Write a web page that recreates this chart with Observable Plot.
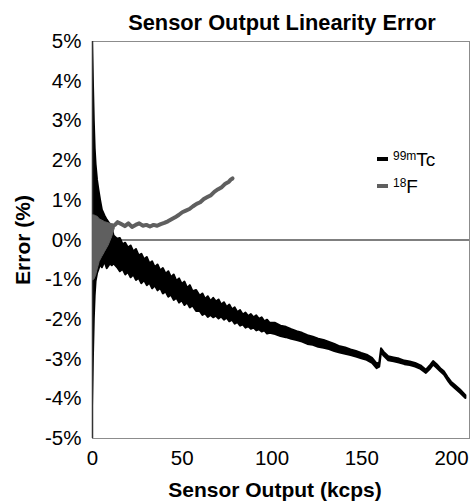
<!DOCTYPE html>
<html>
<head>
<meta charset="utf-8">
<script src="https://cdn.jsdelivr.net/npm/d3@7"></script>
<script src="https://cdn.jsdelivr.net/npm/@observablehq/plot@0.6"></script>
<style>
  html, body { margin: 0; padding: 0; background: #fff; }
  #wrap { position: relative; width: 471px; height: 502px; font-family: "Liberation Sans", Arial, sans-serif; color: #000; }
  .lbl { position: absolute; transform: translate(-50%, -50%); white-space: nowrap; line-height: 1; font-weight: bold; font-size: 21px; }
  .leg { position: absolute; line-height: 1; font-size: 19px; white-space: nowrap; }
  .leg .sw { display: inline-block; width: 11px; height: 3.5px; vertical-align: middle; margin-right: 5px; position: relative; top: -2px; }
  .leg sup { font-size: 12px; vertical-align: 6px; }
</style>
</head>
<body>
<div id="wrap"></div>
<script>
// ---- data ----
const titleText = "Sensor Output Linearity Error";
const xLabel = "Sensor Output (kcps)";
const yLabel = "Error (%)";
const xTicks = [0, 50, 100, 150, 200];
const yTicks = [-5, -4, -3, -2, -1, 0, 1, 2, 3, 4, 5];

// 99mTc: noisy trace, given as its low / high edges vs sensor output
const tcX  = [0, 0.5, 1, 1.5, 2, 2.8, 3.6, 4.5, 5.5, 7, 8.2, 10, 11, 12,
  14, 15.5, 17, 18.5, 20, 21.5, 23, 24.5, 26, 27.5, 29, 30.5, 32, 33.5, 35, 36.5, 38, 39.5, 41, 42.5, 44, 45.5, 47, 48.5, 50, 51.5, 53, 54.5, 56, 58,
  60, 61.5, 63, 64.5, 66, 67.5, 69, 70.5, 72, 73.5, 75, 76.5, 78, 79.5, 81, 82.5, 84, 85.5, 87, 88.5, 90, 91.5, 93, 94.5, 96, 97.5, 99,
  102, 105, 108, 111, 114, 117, 120, 123, 126, 129, 132, 135, 138, 141, 144, 147, 150, 153, 156, 158.5, 160, 161, 162.5, 165, 168, 171, 174, 177, 180, 183, 186, 188, 190, 192, 194, 196, 198, 200, 202, 205, 208];
const tcHi = [5.0, 4.0, 3.0, 2.3, 1.9, 1.5, 1.25, 1.0, 0.75, 0.6, 0.5, 0.38, 0.3, 0.1,
  0.02, 0.04, -0.12, -0.08, -0.2, -0.15, -0.3, -0.24, -0.4, -0.36, -0.5, -0.44, -0.6, -0.55, -0.7, -0.63, -0.78, -0.72, -0.86, -0.8, -0.95, -0.88, -1.04, -0.98, -1.12, -1.06, -1.22, -1.15, -1.3, -1.27,
  -1.42, -1.36, -1.5, -1.43, -1.55, -1.47, -1.56, -1.51, -1.64, -1.58, -1.7, -1.64, -1.76, -1.71, -1.83, -1.78, -1.89, -1.84, -1.93, -1.88, -1.96, -1.91, -2.0, -1.96, -2.06, -2.02, -2.1,
  -2.1, -2.17, -2.2, -2.26, -2.31, -2.35, -2.41, -2.45, -2.5, -2.53, -2.58, -2.63, -2.69, -2.72, -2.77, -2.81, -2.86, -2.9, -2.98, -3.12, -3.1, -2.74, -2.83, -2.94, -2.97, -3.0, -3.05, -3.07, -3.11, -3.17, -3.28, -3.18, -3.06, -3.14, -3.24, -3.32, -3.46, -3.58, -3.66, -3.78, -3.92];
const tcLo = [-4.2, -3.0, -2.0, -1.4, -1.05, -0.85, -0.75, -0.62, -0.7, -0.55, -0.72, -0.6, -0.65, -0.6,
  -0.7, -0.8, -0.74, -0.88, -0.82, -0.95, -0.88, -1.02, -0.97, -1.1, -1.02, -1.15, -1.09, -1.23, -1.16, -1.28, -1.22, -1.36, -1.31, -1.44, -1.39, -1.52, -1.47, -1.59, -1.53, -1.65, -1.59, -1.71, -1.66, -1.8,
  -1.8, -1.9, -1.86, -1.95, -1.9, -1.96, -1.92, -1.99, -1.94, -2.02, -1.97, -2.06, -2.02, -2.12, -2.08, -2.17, -2.14, -2.22, -2.18, -2.25, -2.22, -2.29, -2.26, -2.32, -2.29, -2.37, -2.35,
  -2.38, -2.43, -2.46, -2.5, -2.53, -2.57, -2.63, -2.65, -2.7, -2.73, -2.76, -2.81, -2.85, -2.88, -2.91, -2.95, -2.99, -3.03, -3.11, -3.24, -3.2, -2.84, -2.93, -3.04, -3.07, -3.1, -3.14, -3.16, -3.2, -3.26, -3.36, -3.27, -3.15, -3.23, -3.32, -3.4, -3.54, -3.66, -3.74, -3.86, -3.99];

// 18F: noisy band at low output, then a single trace
const fBandX  = [0, 1, 2, 3, 4, 5.4, 7, 9, 11, 12.5];
const fBandHi = [0.62, 0.62, 0.6, 0.58, 0.52, 0.49, 0.45, 0.42, 0.4, 0.38];
const fBandLo = [-1.02, -1.0, -0.9, -0.72, -0.55, -0.43, -0.3, -0.14, 0.08, 0.3];
const fX = [12.5, 14, 16, 18, 20, 22, 24, 26, 28, 30, 32, 34, 36, 38, 40, 42, 44, 46, 48, 50, 52, 54, 56, 58, 60, 62, 64, 66, 68, 70, 72, 74, 76, 77, 78];
const fY = [0.38, 0.45, 0.40, 0.35, 0.42, 0.33, 0.38, 0.42, 0.36, 0.38, 0.34, 0.38, 0.36, 0.40, 0.43, 0.47, 0.52, 0.57, 0.63, 0.70, 0.74, 0.78, 0.85, 0.91, 0.95, 1.03, 1.08, 1.13, 1.22, 1.28, 1.33, 1.42, 1.47, 1.52, 1.55];

const seriesNames = ["99m", "Tc", "18", "F"];
const tcColor = "#000000";
const fColor = "#5f5f5f";

// ---- build ----
const tcData = tcX.map((x, i) => ({x, lo: tcLo[i], hi: tcHi[i]}));
const fBand = fBandX.map((x, i) => ({x, lo: fBandLo[i], hi: fBandHi[i]}));
const fLine = fX.map((x, i) => ({x, y: fY[i]}));

const chart = Plot.plot({
  width: 471,
  height: 502,
  marginLeft: 92,
  marginRight: 2,
  marginTop: 41,
  marginBottom: 64,
  style: {fontFamily: "'Liberation Sans', Arial, sans-serif", fontSize: "20.5px", color: "#000", background: "#fff"},
  x: {domain: [0, 210], ticks: xTicks, tickSize: 0, tickPadding: 12, label: null},
  y: {domain: [-5, 5], ticks: yTicks, tickSize: 0, tickPadding: 11, tickFormat: d => d + "%", label: null},
  marks: [
    Plot.frame({stroke: "#8c8c8c", strokeWidth: 1}),
    Plot.ruleY([0], {stroke: "#555", strokeWidth: 1.5}),
    Plot.areaY(tcData, {x: "x", y1: "lo", y2: "hi", fill: tcColor, stroke: tcColor, strokeWidth: 2, clip: true}),
    Plot.ruleX([0], {stroke: "#333", strokeWidth: 1.5}),
    Plot.areaY(fBand, {x: "x", y1: "lo", y2: "hi", fill: fColor, stroke: fColor, strokeWidth: 1, clip: true}),
    Plot.line(fLine, {x: "x", y: "y", stroke: fColor, strokeWidth: 4, strokeLinejoin: "round", clip: true})
  ]
});

const wrap = document.getElementById("wrap");
wrap.appendChild(chart);

function addLabel(text, x, y, rotate, size) {
  const d = document.createElement("div");
  d.className = "lbl";
  d.textContent = text;
  d.style.left = x + "px";
  d.style.top = y + "px";
  if (size) d.style.fontSize = size + "px";
  if (rotate) d.style.transform = "translate(-50%, -50%) rotate(-90deg)";
  wrap.appendChild(d);
}
addLabel(titleText, 282, 23, false, 21.8);
addLabel(xLabel, 275, 489);
addLabel(yLabel, 22, 240, true);

function addLegend(sup, main, color, top) {
  const d = document.createElement("div");
  d.className = "leg";
  d.style.left = "377px";
  d.style.top = top + "px";
  d.innerHTML = `<span class="sw" style="background:${color}"></span><sup>${sup}</sup>${main}`;
  wrap.appendChild(d);
}
addLegend(seriesNames[0], seriesNames[1], tcColor, 150);
addLegend(seriesNames[2], seriesNames[3], fColor, 177);
</script>
</body>
</html>
